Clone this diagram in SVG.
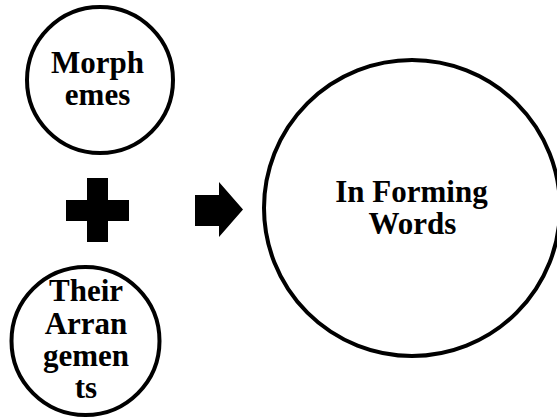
<svg xmlns="http://www.w3.org/2000/svg" width="557" height="418" viewBox="0 0 557 418">
  <style>
    .ring { fill: #ffffff; stroke: #000000; stroke-width: 4; }
    .label { font-family: "Liberation Serif", "Times New Roman", serif; font-weight: bold; font-size: 31px; fill: #000000; text-anchor: middle; }
    .sym { fill: #000000; stroke: none; }
  </style>
  <rect width="557" height="418" fill="#ffffff"/>

  <g id="morphemes">
    <circle class="ring" cx="100" cy="80" r="73"/>
    <text class="label" x="97.5" y="73">Morph</text>
    <text class="label" x="97.5" y="105">emes</text>
  </g>

  <g id="arrangements">
    <circle class="ring" cx="85.5" cy="341" r="74"/>
    <text class="label" x="86" y="301">Their</text>
    <text class="label" x="86" y="334">Arran</text>
    <text class="label" x="86" y="366">gemen</text>
    <text class="label" x="86" y="398">ts</text>
  </g>

  <g id="forming-words">
    <circle class="ring" cx="412" cy="208" r="148"/>
    <text class="label" x="411.5" y="202">In Forming</text>
    <text class="label" x="412.5" y="234">Words</text>
  </g>

  <g id="connectors">
    <!-- plus sign joining the two inputs -->
    <path class="sym" d="M87 178 H108 V200 H129 V221 H108 V242 H87 V221 H66 V200 H87 Z"/>
    <!-- block arrow toward the result -->
    <path class="sym" d="M195 195 H219 V182 L243 209.5 L219 237 V226 H195 Z"/>
  </g>
</svg>
